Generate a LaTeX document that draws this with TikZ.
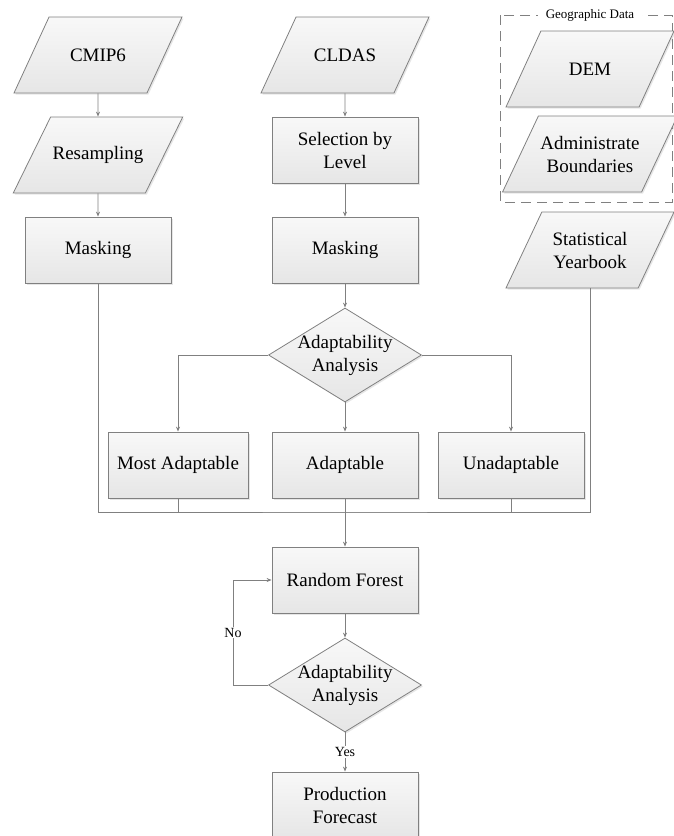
\documentclass[tikz,border=0pt]{standalone}
\usepackage{fontspec}
\setmainfont{Liberation Serif}
\usetikzlibrary{shapes.geometric, arrows.meta, shadows}

\definecolor{edgegray}{RGB}{128,128,128}
\definecolor{fillhi}{RGB}{248,248,248}
\definecolor{filllo}{RGB}{230,230,230}

\tikzset{
  base/.style={draw=edgegray, line width=0.8pt, top color=fillhi, bottom color=filllo, font=\fontsize{19}{23}\selectfont, align=center, drop shadow={shadow xshift=1.5pt, shadow yshift=-1.5pt, opacity=0.2}},
  databox/.style={base, trapezium, trapezium left angle=63, trapezium right angle=117, trapezium stretches body, minimum width=168pt, minimum height=76pt, inner xsep=2pt, inner ysep=28pt},
  twoline/.style={inner ysep=17pt},
  procbox/.style={base, rectangle, minimum width=146pt, minimum height=66pt},
  decision/.style={base, diamond, minimum width=153pt, minimum height=94pt, inner sep=0pt},
  flow/.style={draw=edgegray, line width=0.8pt, -{Stealth[length=5pt, width=4pt]}},
  link/.style={draw=edgegray, line width=0.8pt},
  tag/.style={fill=white, font=\fontsize{14}{16}\selectfont, inner sep=1pt}
}

\begin{document}
\begin{tikzpicture}[x=1pt, y=-1pt, node distance=100pt]
            \useasboundingbox (0,0) rectangle (674,836);
            % left column
            \node (cmip) [databox] at (98,55) {CMIP6};
            \node (resamp) [databox, below of=cmip] {Resampling};
            \node (lmask) [procbox, below of=resamp, yshift=5pt] {Masking};
            % middle column
            \node (cldas) [databox, right of=cmip, xshift=147pt] {CLDAS};
            \node (select) [procbox, below of=cldas, yshift=5pt] {Selection by\\Level};
            \node (cmask) [procbox, below of=select] {Masking};
            \node (adapt1) [decision, below of=cmask, yshift=-5pt, label={[font=\fontsize{19}{23}\selectfont, align=center]center:Adaptability\\Analysis}] {};
            \node (adapt) [procbox, below of=adapt1, yshift=-10pt] {Adaptable};
            \node (mostad) [procbox, minimum width=140pt, left of=adapt, xshift=-67pt] {Most Adaptable};
            \node (unadapt) [procbox, right of=adapt, xshift=66pt] {Unadaptable};
            \node (randf) [procbox, below of=adapt, yshift=-15pt] {Random Forest};
            \node (adapt2) [decision, below of=randf, yshift=-5pt, label={[font=\fontsize{19}{23}\selectfont, align=center]center:Adaptability\\Analysis}] {};
            \node (prodf) [procbox, below of=adapt2, yshift=-20pt] {Production\\Forecast};
            % right column
            \draw [edgegray, line width=0.8pt, dash pattern=on 10pt off 6pt] (500,15) rectangle (672,202);
            \node (geotitle) [fill=white, font=\fontsize{13}{15}\selectfont, inner xsep=8pt, inner ysep=2pt] at (590,15) {Geographic Data};
            \node (dem) [databox] at (590,69) {DEM};
            \node (admin) [databox, twoline, below of=dem, yshift=15pt] {Administrate\\Boundaries};
            \node (yearbook) [databox, twoline, below of=admin, yshift=4pt] {Statistical\\Yearbook};

            \draw [flow] (cmip) -- (resamp);
            \draw [flow] (resamp) -- (lmask);
            \draw [flow] (cldas) -- (select);
            \draw [flow] (select) -- (cmask);
            \draw [flow] (cmask) -- (adapt1);
            \draw [flow] (adapt1.west) -| (mostad.north);
            \draw [flow] (adapt1) -- (adapt);
            \draw [flow] (adapt1.east) -| (unadapt.north);
            \coordinate (merge) at (345,512);
            \draw [link] (lmask.south) |- (merge) -| (yearbook.south);
            \draw [link] (mostad.south) |- (merge) -| (unadapt.south);
            \draw [flow] (adapt) -- (randf);
            \draw [flow] (randf) -- (adapt2);
            \coordinate (loopback) at (233,685);
            \draw [flow] (adapt2.west) -- (loopback) |- node[tag, pos=0.25] {No} (randf.west);
            \draw [flow] (adapt2) -- node[tag] {Yes} (prodf);
        \end{tikzpicture}
\end{document}
